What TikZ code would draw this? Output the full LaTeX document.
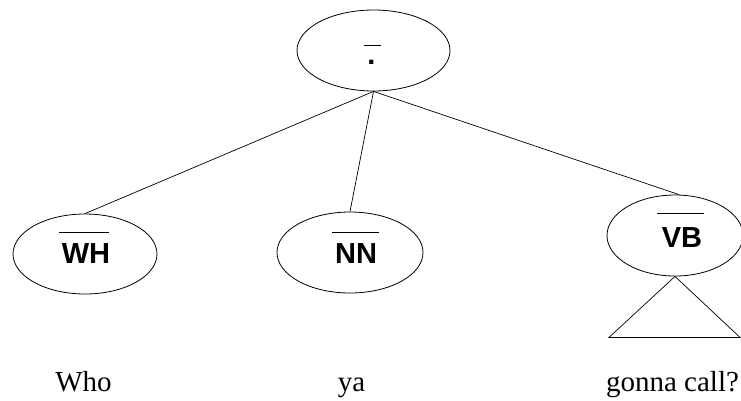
\documentclass[tikz,border=0pt]{standalone}
\usepackage{fontspec}
\setmainfont{Liberation Serif}
\newfontfamily\labfont{Liberation Sans}
\usetikzlibrary{shapes.geometric,calc}
\begin{document}
\begin{tikzpicture}[x=1pt,y=-1pt,
  cat/.style={draw,ellipse,line width=0.8pt,inner sep=0pt},
  lab/.style={inner sep=0pt,font=\labfont\bfseries\fontsize{29}{30}\selectfont},
  word/.style={inner sep=0pt,anchor=base,font=\fontsize{29}{30}\selectfont},
  edge/.style={line width=0.7pt},
  bar/.style={line width=1pt}]
\useasboundingbox (0,0) rectangle (741,400);
% category ellipses
\node[cat,minimum width=153pt,minimum height=81pt] (top) at (373.5,50.5) {};
\node[cat,minimum width=144pt,minimum height=80pt] (wh) at (85,254) {};
\node[cat,minimum width=146pt,minimum height=81pt] (nn) at (350,252.5) {};
\node[cat,minimum width=136pt,minimum height=81pt] (vb) at (675,235.5) {};
% labels
\node[lab] (topl) at (371.5,62) {.};
\node[lab] (whl) at (86,254) {WH};
\node[lab] (nnl) at (356,254) {NN};
\node[lab] (vbl) at (682,237.5) {VB};
% overbars
\draw[bar] ($(top)+(-9.5,-5.5)$) -- ($(top)+(7.5,-5.5)$);
\draw[bar] ($(wh)+(-26,-22)$) -- ($(wh)+(24,-22)$);
\draw[bar] ($(nn)+(-18,-20.5)$) -- ($(nn)+(29,-20.5)$);
\draw[bar] ($(vb)+(-18,-22.5)$) -- ($(vb)+(29,-22.5)$);
% connectors
\draw[edge] (top.south) -- (wh.north);
\draw[edge] (top.south) -- (nn.north);
\draw[edge] (top.south) -- ($(vb.north)+(4,0)$);
% triangle
\draw[edge] (vb.south) -- ++(-66,61) -- ++(131,0) -- cycle;
% words
\node[word] (w1) at (83.5,391) {Who};
\node[word] (w2) at (351.5,391) {ya};
\node[word] (w3) at (672.5,391) {gonna call?};
\end{tikzpicture}
\end{document}
